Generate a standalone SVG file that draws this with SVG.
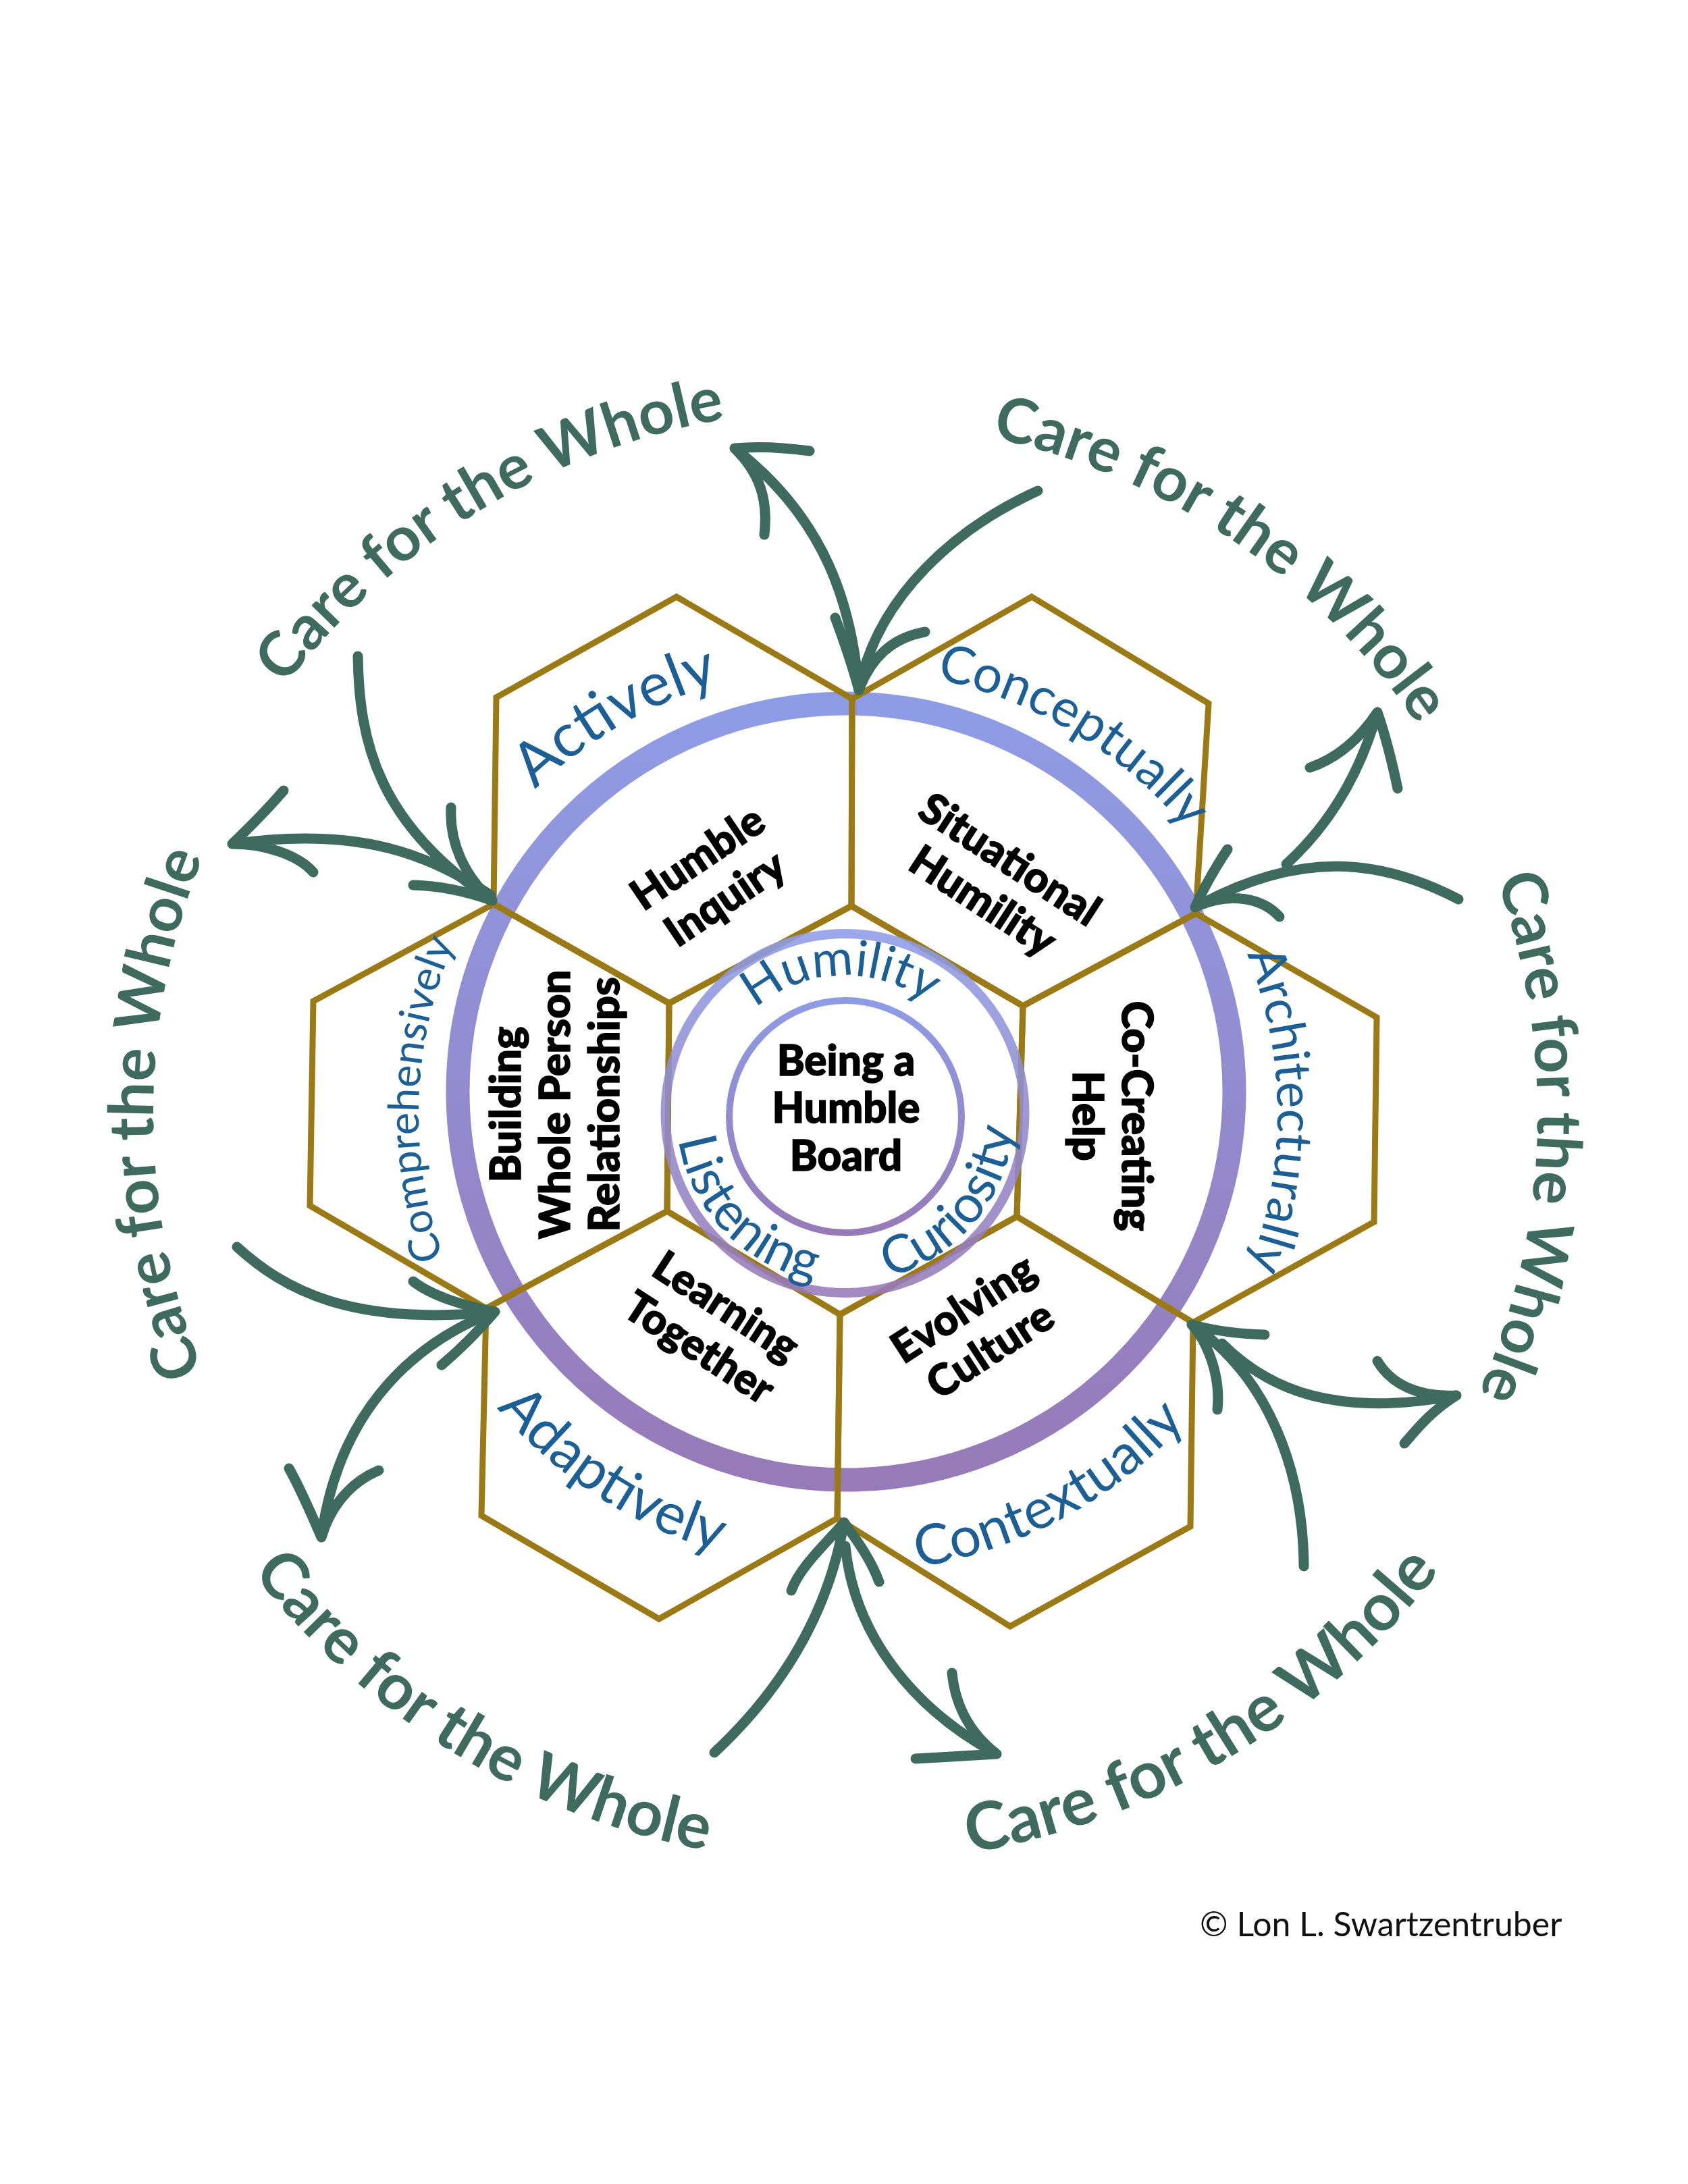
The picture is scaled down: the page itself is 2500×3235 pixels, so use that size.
<svg xmlns="http://www.w3.org/2000/svg" width="2500" height="3235" viewBox="0 0 2500 3235">
<style>
.hex{fill:none;stroke:#9B7A15;stroke-width:9;stroke-linejoin:miter}
.care{font-family:Lato,'Open Sans',sans-serif;font-weight:700;font-size:92px;fill:#3E6B5E}
.blue{font-family:Lato,'Open Sans',sans-serif;fill:#1B5F96}
.blk{font-family:Lato,'Open Sans',sans-serif;font-weight:900;font-size:63px;fill:#000;stroke:#000;stroke-width:1.5;text-anchor:middle}
.arr{fill:none;stroke:#3F6B5F;stroke-width:15;stroke-linecap:round;stroke-linejoin:round}
</style>
<defs>
<linearGradient id="rg" x1="0" y1="0" x2="0" y2="1"><stop offset="0" stop-color="#8E9CE6"/><stop offset="1" stop-color="#977AB8"/></linearGradient>
<path id="cw1025" d="M227,1650 A1025,1025 0 0 1 2277,1650"/>
<path id="cw1045" d="M207,1650 A1045,1045 0 0 1 2297,1650"/>
<path id="ccw1110" d="M142,1650 A1110,1110 0 0 0 2362,1650"/>
<path id="cw665" d="M587,1650 A665,665 0 0 1 1917,1650"/>
<path id="cw658" d="M594,1650 A658,658 0 0 1 1910,1650"/>
<path id="cw640" d="M612,1650 A640,640 0 0 1 1892,1650"/>
<path id="cw632" d="M620,1650 A632,632 0 0 1 1884,1650"/>
<path id="ccw675" d="M577,1650 A675,675 0 0 0 1927,1650"/>
<path id="ccw680" d="M572,1650 A680,680 0 0 0 1932,1650"/>
<path id="cw205" d="M1047,1650 A205,205 0 0 1 1457,1650"/>
<path id="ccw250" d="M1002,1650 A250,250 0 0 0 1502,1650"/>
</defs>
<rect width="2500" height="3235" fill="#fff"/>
<circle id="outer-ring" cx="1253" cy="1617" r="575" fill="none" stroke="url(#rg)" stroke-width="35"/>
<g id="hex-humble-inquiry">
<polygon class="hex" points="1002,884 1262,1035 1261,1342 991,1486 731,1339 735,1033"/>
<text class="blk" transform="translate(1053,1300) rotate(-34)"><tspan x="0" y="-14">Humble</tspan><tspan x="0" y="59">Inquiry</tspan></text>
<text class="blue" text-anchor="middle" style="font-size:90px" transform="rotate(-30 1252 1650)"><textPath href="#cw665" startOffset="50%">Actively</textPath></text>
</g>
<g id="hex-situational-humility">
<polygon class="hex" points="1528,884 1790,1042 1771,1353 1515,1490 1261,1342 1262,1035"/>
<text class="blk" transform="translate(1476,1303) rotate(33)"><tspan x="0" y="-14">Situational</tspan><tspan x="0" y="59">Humility</tspan></text>
<text class="blue" text-anchor="middle" style="font-size:77px" transform="rotate(31 1252 1650)"><textPath href="#cw658" startOffset="50%">Conceptually</textPath></text>
</g>
<g id="hex-co-creating-help">
<polygon class="hex" points="1771,1353 2039,1507 2035,1810 1767,1959 1506,1802 1515,1490"/>
<text class="blk" transform="translate(1648,1653) rotate(90)"><tspan x="0" y="-14">Co-Creating</tspan><tspan x="0" y="59">Help</tspan></text>
<text class="blue" text-anchor="middle" style="font-size:74px" transform="rotate(89.5 1252 1650)"><textPath href="#cw640" startOffset="50%">Architecturally</textPath></text>
</g>
<g id="hex-evolving-culture">
<polygon class="hex" points="1506,1802 1767,1959 1763,2261 1496,2409 1240,2249 1244,1947"/>
<text class="blk" transform="translate(1446,1968) rotate(-33)"><tspan x="0" y="-14">Evolving</tspan><tspan x="0" y="59">Culture</tspan></text>
<text class="blue" text-anchor="middle" style="font-size:83px" transform="rotate(-28.5 1252 1650)"><textPath href="#ccw680" startOffset="50%">Contextually</textPath></text>
</g>
<g id="hex-learning-together">
<polygon class="hex" points="988,1794 1244,1947 1240,2249 976,2398 713,2245 720,1938"/>
<text class="blk" transform="translate(1056,1965) rotate(33)"><tspan x="0" y="-14">Learning</tspan><tspan x="0" y="59">Together</tspan></text>
<text class="blue" text-anchor="middle" style="font-size:85px" transform="rotate(33 1252 1650)"><textPath href="#ccw675" startOffset="50%">Adaptively</textPath></text>
</g>
<g id="hex-building-relationships">
<polygon class="hex" points="731,1339 991,1486 988,1794 720,1938 459,1786 464,1483"/>
<text class="blk" transform="translate(822,1636) rotate(-90)"><tspan x="0" y="-51">Building</tspan><tspan x="0" y="22">Whole Person</tspan><tspan x="0" y="95">Relationships</tspan></text>
<text class="blue" text-anchor="middle" style="font-size:63px" transform="rotate(-88 1252 1650)"><textPath href="#cw632" startOffset="50%">Comprehensively</textPath></text>
</g>
<g id="hex-center">
<polygon class="hex" points="1261,1342 1515,1490 1506,1802 1244,1947 988,1794 991,1486"/>
</g>
<g id="core">
<circle cx="1251.5" cy="1649" r="266" fill="none" stroke="url(#rg)" stroke-width="14" opacity="0.88"/>
<circle cx="1252" cy="1654" r="172" fill="none" stroke="url(#rg)" stroke-width="10"/>
<text class="blk" style="font-size:62px"><tspan x="1253" y="1593">Being a</tspan><tspan x="1253" y="1663">Humble</tspan><tspan x="1253" y="1734">Board</tspan></text>
<text class="blue" text-anchor="middle" style="font-size:74px" transform="rotate(-2 1252 1650)"><textPath href="#cw205" startOffset="50%">Humility</textPath></text>
<text class="blue" text-anchor="middle" style="font-size:78px" transform="rotate(46 1252 1650)"><textPath href="#ccw250" startOffset="50%">Listening</textPath></text>
<text class="blue" text-anchor="middle" style="font-size:78px" transform="rotate(-50 1252 1650)"><textPath href="#ccw250" startOffset="50%">Curiosity</textPath></text>
</g>
<g id="care-labels">
<text class="care" text-anchor="middle" transform="rotate(-31.2 1252 1650)"><textPath href="#cw1045" startOffset="50%">Care for the Whole</textPath></text>
<text class="care" text-anchor="middle" transform="rotate(34 1252 1650)"><textPath href="#cw1025" startOffset="50%">Care for the Whole</textPath></text>
<text class="care" text-anchor="middle" transform="rotate(92 1252 1650)"><textPath href="#cw1025" startOffset="50%">Care for the Whole</textPath></text>
<text class="care" text-anchor="middle" style="font-size:98px" transform="rotate(-31 1252 1650)"><textPath href="#ccw1110" startOffset="50%">Care for the Whole</textPath></text>
<text class="care" text-anchor="middle" style="font-size:95px" transform="rotate(31.5 1252 1650)"><textPath href="#ccw1110" startOffset="50%">Care for the Whole</textPath></text>
<text class="care" text-anchor="middle" transform="rotate(-90 1252 1650)"><textPath href="#cw1025" startOffset="50%">Care for the Whole</textPath></text>
</g>
<g id="connectors">
<path class="arr" d="M1272,1022 C1262,900 1225,770 1088,664 M1088,664 C1130,660 1170,664 1199,668 M1088,664 C1125,700 1138,740 1132,792"/>
<path class="arr" d="M1537,727 C1420,780 1300,880 1272,1022 M1272,1022 C1262,985 1250,950 1237,915 M1272,1022 C1290,975 1320,945 1370,936"/>
<path class="arr" d="M2160,1332 C2050,1275 1930,1255 1770,1344 M1770,1344 C1785,1310 1800,1285 1818,1258 M1770,1344 C1820,1320 1870,1330 1895,1358"/>
<path class="arr" d="M1905,1280 C1960,1230 2010,1160 2040,1055 M2040,1055 C2010,1100 1975,1125 1940,1137 M2040,1055 C2052,1090 2062,1130 2070,1168"/>
<path class="arr" d="M1931,2320 C1930,2180 1880,2040 1765,1962 M1765,1962 C1800,1972 1840,1976 1873,1977 M1765,1962 C1790,1990 1808,2040 1803,2088"/>
<path class="arr" d="M1810,1990 C1880,2060 1980,2100 2157,2067 M2157,2067 C2100,2070 2060,2050 2040,2016 M2157,2067 C2120,2090 2100,2115 2080,2138"/>
<path class="arr" d="M1058,2596 C1150,2510 1225,2400 1250,2255 M1250,2255 C1225,2285 1185,2320 1172,2356 M1250,2255 C1268,2280 1290,2310 1302,2343"/>
<path class="arr" d="M1252,2290 C1265,2420 1350,2530 1476,2598 M1476,2598 C1440,2570 1415,2530 1410,2478 M1476,2598 C1440,2600 1395,2603 1356,2605"/>
<path class="arr" d="M351,1847 C420,1910 520,1965 733,1943 M733,1943 C690,1935 640,1920 612,1898 M733,1943 C710,1970 680,2000 654,2022"/>
<path class="arr" d="M715,1950 C600,2000 500,2100 476,2277 M476,2277 C460,2240 445,2205 428,2175 M476,2277 C490,2230 520,2195 561,2178"/>
<path class="arr" d="M530,972 C532,1100 560,1220 729,1334 M729,1334 C690,1300 665,1250 668,1196 M729,1334 C690,1320 650,1312 612,1311"/>
<path class="arr" d="M727,1326 C640,1270 540,1222 344,1250 M344,1250 C370,1225 395,1200 420,1171 M344,1250 C390,1250 440,1265 464,1292"/>
</g>
<text id="copyright" x="1777" y="2868" font-family="Lato,'Open Sans',sans-serif" font-size="50" fill="#111">© Lon L. Swartzentruber</text>
</svg>
